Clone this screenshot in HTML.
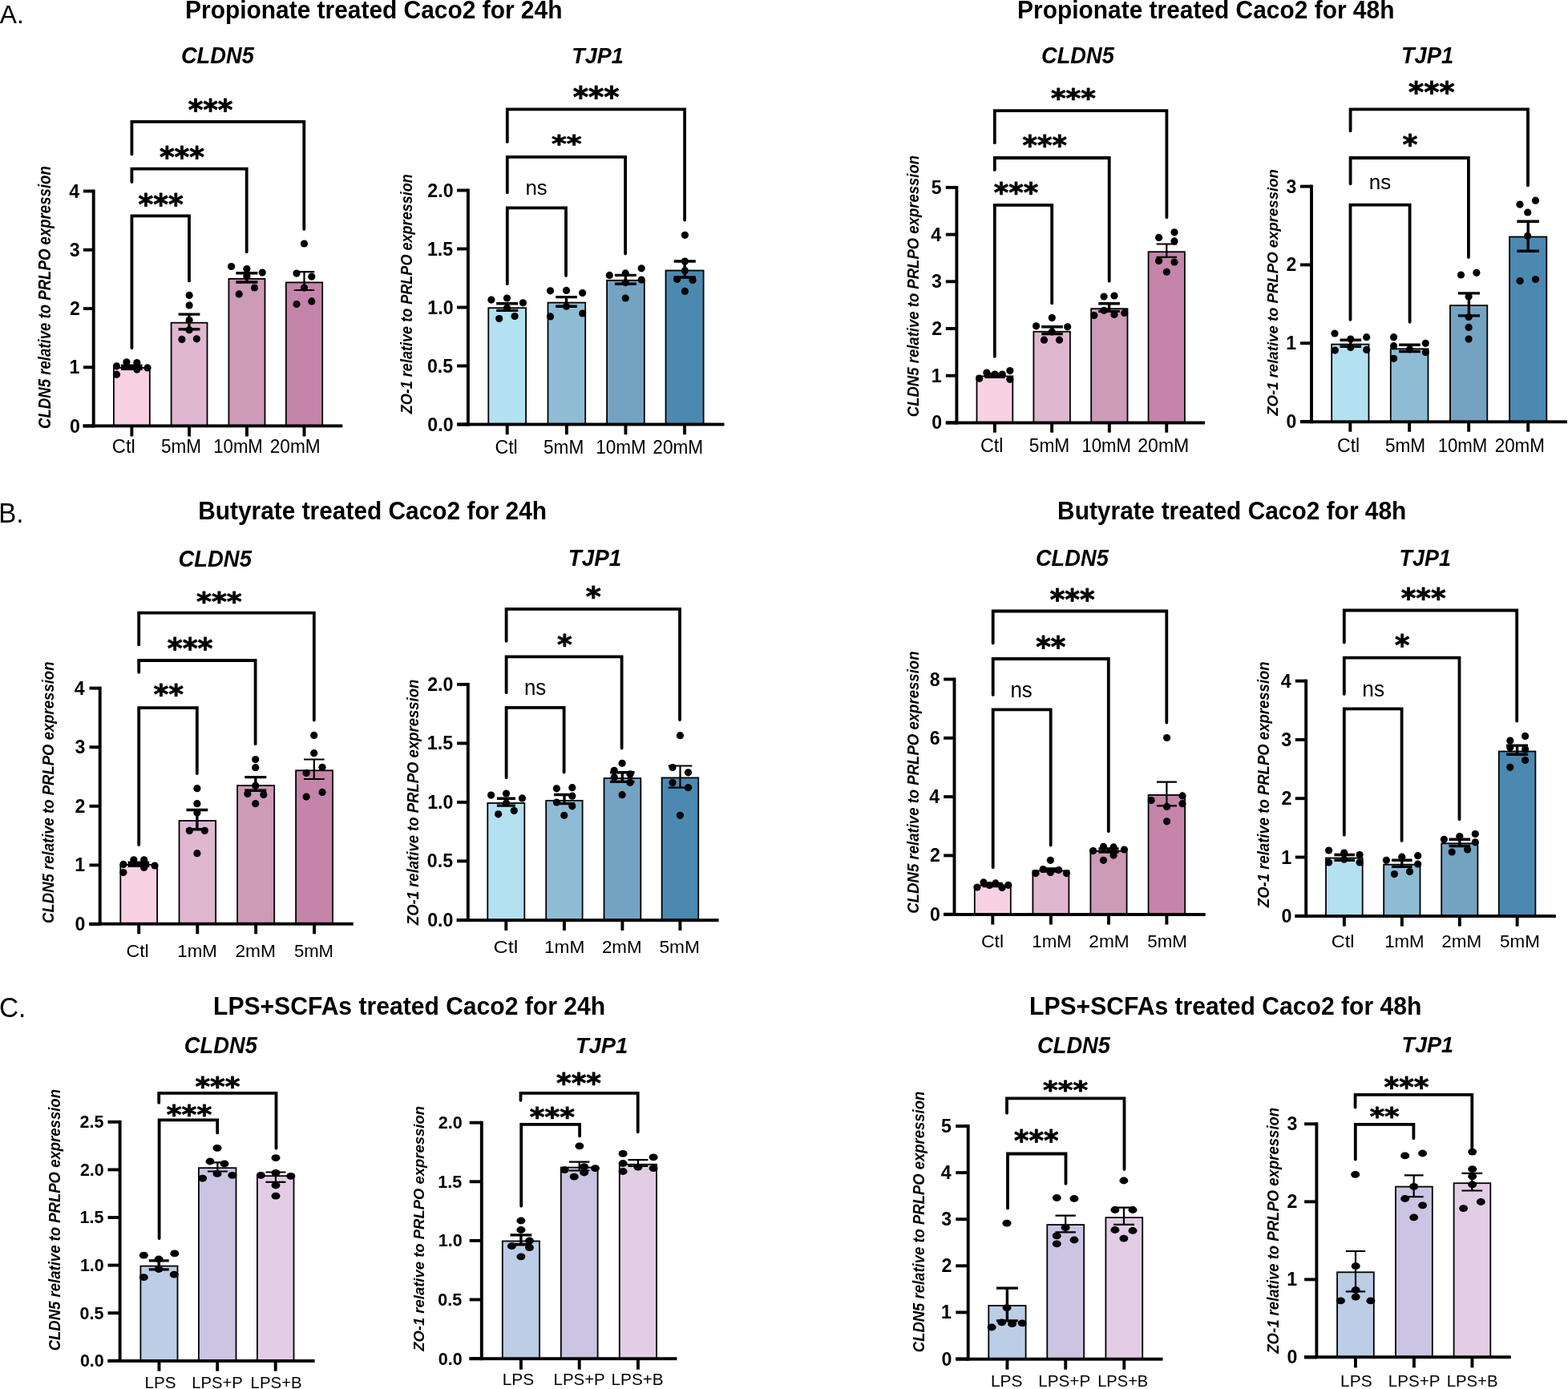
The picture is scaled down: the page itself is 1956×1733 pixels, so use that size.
<!DOCTYPE html>
<html><head><meta charset="utf-8"><title>SCFA Caco2 figure</title>
<style>html,body{margin:0;padding:0;background:#fff;}body{width:1956px;height:1733px;overflow:hidden;}svg{display:block;}</style>
</head><body>
<svg width="1956" height="1733" viewBox="0 0 1956 1733" font-family="'Liberation Sans', Arial, Helvetica, sans-serif" fill="#000"><text transform="translate(231.06 22.75) scale(0.9557 1)" font-size="31.30" font-weight="bold" font-style="normal">Propionate treated Caco2 for 24h</text>
<text transform="translate(1269.06 22.75) scale(0.9557 1)" font-size="31.30" font-weight="bold" font-style="normal">Propionate treated Caco2 for 48h</text>
<text transform="translate(247.16 647.70) scale(0.9638 1)" font-size="31.01" font-weight="bold" font-style="normal">Butyrate treated Caco2 for 24h</text>
<text transform="translate(1319.06 647.70) scale(0.9643 1)" font-size="31.01" font-weight="bold" font-style="normal">Butyrate treated Caco2 for 48h</text>
<text transform="translate(266.04 1265.70) scale(0.9619 1)" font-size="31.30" font-weight="bold" font-style="normal">LPS+SCFAs treated Caco2 for 24h</text>
<text transform="translate(1284.04 1265.70) scale(0.9621 1)" font-size="31.30" font-weight="bold" font-style="normal">LPS+SCFAs treated Caco2 for 48h</text>
<text transform="translate(-0.16 28.80) scale(1.0085 1)" font-size="31.45" font-weight="normal" font-style="normal">A.</text>
<text transform="translate(-1.84 651.80) scale(0.9604 1)" font-size="34.35" font-weight="normal" font-style="normal">B.</text>
<text transform="translate(-1.07 1269.25) scale(0.9621 1)" font-size="34.65" font-weight="normal" font-style="normal">C.</text>
<g><rect x="141.90" y="458.90" width="44.90" height="72.50" fill="#f8d1e3" stroke="#000" stroke-width="1.8"/><rect x="213.60" y="402.70" width="44.90" height="128.70" fill="#dfb7d1" stroke="#000" stroke-width="1.8"/><rect x="285.40" y="347.90" width="45.10" height="183.50" fill="#cd9ab8" stroke="#000" stroke-width="1.8"/><rect x="356.80" y="352.40" width="45.40" height="179.00" fill="#c585aa" stroke="#000" stroke-width="1.8"/><rect x="114.75" y="236.55" width="3.9" height="296.80"/><rect x="104.00" y="529.55" width="12.70" height="3.9"/><rect x="104.00" y="456.30" width="12.70" height="3.9"/><rect x="104.00" y="383.05" width="12.70" height="3.9"/><rect x="104.00" y="309.80" width="12.70" height="3.9"/><rect x="104.00" y="236.55" width="12.70" height="3.9"/><rect x="103.40" y="529.45" width="323.90" height="3.9"/><rect x="162.40" y="531.40" width="3.9" height="13.10"/><rect x="234.10" y="531.40" width="3.9" height="13.10"/><rect x="306.00" y="531.40" width="3.9" height="13.10"/><rect x="377.55" y="531.40" width="3.9" height="13.10"/><circle cx="145.50" cy="456.80" r="4.6"/><circle cx="157.90" cy="451.80" r="4.6"/><circle cx="170.80" cy="452.50" r="4.6"/><circle cx="170.80" cy="461.10" r="4.6"/><circle cx="184.00" cy="458.90" r="4.6"/><circle cx="145.50" cy="467.20" r="4.6"/><circle cx="236.10" cy="368.40" r="4.6"/><circle cx="236.10" cy="380.90" r="4.6"/><circle cx="236.10" cy="399.50" r="4.6"/><circle cx="236.10" cy="411.70" r="4.6"/><circle cx="226.90" cy="423.40" r="4.6"/><circle cx="245.40" cy="422.80" r="4.6"/><circle cx="288.60" cy="332.50" r="4.6"/><circle cx="307.90" cy="335.50" r="4.6"/><circle cx="327.20" cy="340.10" r="4.6"/><circle cx="307.90" cy="344.40" r="4.6"/><circle cx="317.50" cy="359.00" r="4.6"/><circle cx="298.20" cy="366.90" r="4.6"/><circle cx="379.50" cy="304.00" r="4.6"/><circle cx="370.00" cy="341.10" r="4.6"/><circle cx="388.80" cy="345.10" r="4.6"/><circle cx="379.50" cy="359.00" r="4.6"/><circle cx="370.00" cy="379.50" r="4.6"/><circle cx="388.80" cy="375.90" r="4.6"/><path d="M164.30 456.30V460.30M151.00 456.30H177.60M151.00 460.30H177.60" stroke="#000" stroke-width="3.4" fill="none"/><path d="M236.00 392.10V410.70M222.60 392.10H249.40M222.60 410.70H249.40" stroke="#000" stroke-width="3.4" fill="none"/><path d="M307.90 340.80V352.00M294.40 340.80H321.40M294.40 352.00H321.40" stroke="#000" stroke-width="3.4" fill="none"/><path d="M379.50 339.10V362.00M366.80 339.10H392.20M366.80 362.00H392.20" stroke="#000" stroke-width="2.2" fill="none"/><path d="M164.40 192.40V151.80H379.30V285.90" stroke="#000" stroke-width="3.8" fill="none" stroke-linecap="round" stroke-linejoin="miter"/><path d="M164.40 227.10V210.60H307.70V314.30" stroke="#000" stroke-width="3.8" fill="none" stroke-linecap="round" stroke-linejoin="miter"/><path d="M164.40 434.10V269.40H236.00V350.40" stroke="#000" stroke-width="3.8" fill="none" stroke-linecap="round" stroke-linejoin="miter"/><text transform="translate(234.69 149.34) scale(0.9837 1)" font-size="36.13" font-weight="bold" font-style="normal" font-family="'DejaVu Sans', sans-serif" stroke="#000" stroke-width="0.8" stroke-linejoin="round">***</text><text transform="translate(198.88 208.29) scale(0.9851 1)" font-size="36.34" font-weight="bold" font-style="normal" font-family="'DejaVu Sans', sans-serif" stroke="#000" stroke-width="0.8" stroke-linejoin="round">***</text><text transform="translate(172.58 267.04) scale(0.9910 1)" font-size="36.13" font-weight="bold" font-style="normal" font-family="'DejaVu Sans', sans-serif" stroke="#000" stroke-width="0.8" stroke-linejoin="round">***</text><text transform="translate(86.96 539.50) scale(1.0000 1)" font-size="23.19" font-weight="bold" font-style="normal">0</text><text transform="translate(86.61 466.25) scale(1.0000 1)" font-size="23.19" font-weight="bold" font-style="normal">1</text><text transform="translate(86.96 393.00) scale(1.0000 1)" font-size="23.19" font-weight="bold" font-style="normal">2</text><text transform="translate(86.84 319.75) scale(1.0000 1)" font-size="23.19" font-weight="bold" font-style="normal">3</text><text transform="translate(86.15 246.50) scale(1.0000 1)" font-size="23.19" font-weight="bold" font-style="normal">4</text><text transform="translate(139.81 564.70) scale(1.0289 1)" font-size="23.04" font-weight="normal" font-style="normal">Ctl</text><text transform="translate(201.10 564.70) scale(0.9774 1)" font-size="23.04" font-weight="normal" font-style="normal">5mM</text><text transform="translate(266.24 564.70) scale(0.9623 1)" font-size="23.04" font-weight="normal" font-style="normal">10mM</text><text transform="translate(336.77 564.70) scale(0.9828 1)" font-size="23.04" font-weight="normal" font-style="normal">20mM</text><text transform="translate(225.94 79.11) scale(0.9262 1)" font-size="29.44" font-weight="bold" font-style="italic">CLDN5</text><text transform="translate(63.20 535.03) rotate(-90) scale(0.8678 1)" font-size="21.45" font-weight="bold" font-style="italic">CLDN5 relative to PRLPO expression</text></g>
<g><rect x="609.30" y="384.20" width="46.80" height="145.30" fill="#b3e1f1" stroke="#000" stroke-width="1.8"/><rect x="683.50" y="377.60" width="46.70" height="151.90" fill="#8fbcd5" stroke="#000" stroke-width="1.8"/><rect x="757.10" y="349.80" width="46.70" height="179.70" fill="#74a3c2" stroke="#000" stroke-width="1.8"/><rect x="830.50" y="337.50" width="47.10" height="192.00" fill="#4b89b1" stroke="#000" stroke-width="1.8"/><rect x="581.95" y="235.55" width="3.9" height="295.90"/><rect x="570.00" y="527.55" width="13.90" height="3.9"/><rect x="570.00" y="454.55" width="13.90" height="3.9"/><rect x="570.00" y="381.55" width="13.90" height="3.9"/><rect x="570.00" y="308.55" width="13.90" height="3.9"/><rect x="570.00" y="235.55" width="13.90" height="3.9"/><rect x="570.50" y="527.55" width="333.00" height="3.9"/><rect x="630.75" y="529.50" width="3.9" height="12.70"/><rect x="704.90" y="529.50" width="3.9" height="12.70"/><rect x="778.50" y="529.50" width="3.9" height="12.70"/><rect x="852.10" y="529.50" width="3.9" height="12.70"/><circle cx="612.90" cy="374.10" r="4.6"/><circle cx="632.50" cy="372.00" r="4.6"/><circle cx="652.40" cy="377.80" r="4.6"/><circle cx="632.50" cy="384.30" r="4.6"/><circle cx="622.70" cy="397.60" r="4.6"/><circle cx="642.10" cy="394.50" r="4.6"/><circle cx="686.50" cy="362.80" r="4.6"/><circle cx="706.50" cy="362.40" r="4.6"/><circle cx="726.60" cy="365.50" r="4.6"/><circle cx="706.50" cy="382.20" r="4.6"/><circle cx="686.50" cy="394.90" r="4.6"/><circle cx="726.60" cy="391.00" r="4.6"/><circle cx="760.30" cy="343.40" r="4.6"/><circle cx="780.20" cy="340.90" r="4.6"/><circle cx="800.20" cy="334.80" r="4.6"/><circle cx="800.20" cy="349.10" r="4.6"/><circle cx="780.20" cy="352.60" r="4.6"/><circle cx="780.20" cy="372.00" r="4.6"/><circle cx="854.40" cy="293.30" r="4.6"/><circle cx="854.40" cy="326.00" r="4.6"/><circle cx="854.40" cy="337.70" r="4.6"/><circle cx="844.60" cy="348.50" r="4.6"/><circle cx="864.00" cy="349.50" r="4.6"/><circle cx="854.40" cy="363.40" r="4.6"/><path d="M632.70 378.80V387.40M619.20 378.80H646.20M619.20 387.40H646.20" stroke="#000" stroke-width="3.4" fill="none"/><path d="M706.50 370.60V382.20M693.20 370.60H719.80M693.20 382.20H719.80" stroke="#000" stroke-width="3.4" fill="none"/><path d="M780.40 343.40V354.20M766.90 343.40H793.90M766.90 354.20H793.90" stroke="#000" stroke-width="3.4" fill="none"/><path d="M854.20 326.00V346.00M840.60 326.00H867.80M840.60 346.00H867.80" stroke="#000" stroke-width="3.4" fill="none"/><path d="M632.80 176.90V136.40H854.10V274.60" stroke="#000" stroke-width="3.8" fill="none" stroke-linecap="round" stroke-linejoin="miter"/><path d="M632.80 240.30V195.80H780.10V316.50" stroke="#000" stroke-width="3.8" fill="none" stroke-linecap="round" stroke-linejoin="miter"/><path d="M632.80 354.20V259.30H706.00V343.90" stroke="#000" stroke-width="3.8" fill="none" stroke-linecap="round" stroke-linejoin="miter"/><text transform="translate(714.76 133.40) scale(1.0430 1)" font-size="35.27" font-weight="bold" font-style="normal" font-family="'DejaVu Sans', sans-serif" stroke="#000" stroke-width="0.8" stroke-linejoin="round">***</text><text transform="translate(687.98 189.04) scale(1.2282 1)" font-size="29.25" font-weight="bold" font-style="normal" font-family="'DejaVu Sans', sans-serif" stroke="#000" stroke-width="0.8" stroke-linejoin="round">**</text><text transform="translate(655.53 243.03) scale(0.9704 1)" font-size="26.55" font-weight="normal" font-style="normal">ns</text><text transform="translate(533.30 537.50) scale(1.0000 1)" font-size="23.19" font-weight="bold" font-style="normal">0.0</text><text transform="translate(532.95 464.50) scale(1.0000 1)" font-size="23.19" font-weight="bold" font-style="normal">0.5</text><text transform="translate(533.30 391.50) scale(1.0000 1)" font-size="23.19" font-weight="bold" font-style="normal">1.0</text><text transform="translate(532.95 318.50) scale(1.0000 1)" font-size="23.19" font-weight="bold" font-style="normal">1.5</text><text transform="translate(533.30 245.50) scale(1.0000 1)" font-size="23.19" font-weight="bold" font-style="normal">2.0</text><text transform="translate(617.44 565.80) scale(0.9991 1)" font-size="23.19" font-weight="normal" font-style="normal">Ctl</text><text transform="translate(678.00 565.80) scale(0.9754 1)" font-size="23.19" font-weight="normal" font-style="normal">5mM</text><text transform="translate(743.31 565.80) scale(0.9711 1)" font-size="23.19" font-weight="normal" font-style="normal">10mM</text><text transform="translate(814.37 565.80) scale(0.9750 1)" font-size="23.19" font-weight="normal" font-style="normal">20mM</text><text transform="translate(713.21 78.72) scale(0.9800 1)" font-size="27.57" font-weight="bold" font-style="italic">TJP1</text><text transform="translate(513.50 516.35) rotate(-90) scale(0.8784 1)" font-size="20.58" font-weight="bold" font-style="italic">ZO-1 relative to PRLPO expression</text></g>
<g><rect x="1218.50" y="469.40" width="44.80" height="58.10" fill="#f8d1e3" stroke="#000" stroke-width="1.8"/><rect x="1289.40" y="413.80" width="45.50" height="113.70" fill="#dfb7d1" stroke="#000" stroke-width="1.8"/><rect x="1361.20" y="385.20" width="45.30" height="142.30" fill="#cd9ab8" stroke="#000" stroke-width="1.8"/><rect x="1432.60" y="314.20" width="45.30" height="213.30" fill="#c585aa" stroke="#000" stroke-width="1.8"/><rect x="1191.45" y="231.95" width="3.9" height="297.50"/><rect x="1179.80" y="525.45" width="13.60" height="3.9"/><rect x="1179.80" y="466.75" width="13.60" height="3.9"/><rect x="1179.80" y="408.05" width="13.60" height="3.9"/><rect x="1179.80" y="349.35" width="13.60" height="3.9"/><rect x="1179.80" y="290.65" width="13.60" height="3.9"/><rect x="1179.80" y="231.95" width="13.60" height="3.9"/><rect x="1179.80" y="525.55" width="323.20" height="3.9"/><rect x="1238.95" y="527.50" width="3.9" height="12.20"/><rect x="1310.20" y="527.50" width="3.9" height="12.20"/><rect x="1381.90" y="527.50" width="3.9" height="12.20"/><rect x="1453.30" y="527.50" width="3.9" height="12.20"/><circle cx="1221.70" cy="472.20" r="4.6"/><circle cx="1230.90" cy="465.10" r="4.6"/><circle cx="1241.10" cy="467.10" r="4.6"/><circle cx="1250.30" cy="467.10" r="4.6"/><circle cx="1259.90" cy="462.60" r="4.6"/><circle cx="1259.90" cy="473.30" r="4.6"/><circle cx="1312.30" cy="396.60" r="4.6"/><circle cx="1292.60" cy="406.80" r="4.6"/><circle cx="1331.70" cy="407.80" r="4.6"/><circle cx="1312.30" cy="414.00" r="4.6"/><circle cx="1302.50" cy="424.20" r="4.6"/><circle cx="1321.50" cy="424.20" r="4.6"/><circle cx="1377.10" cy="370.00" r="4.6"/><circle cx="1390.00" cy="369.00" r="4.6"/><circle cx="1364.80" cy="393.50" r="4.6"/><circle cx="1377.10" cy="387.40" r="4.6"/><circle cx="1390.00" cy="392.50" r="4.6"/><circle cx="1402.70" cy="390.40" r="4.6"/><circle cx="1465.00" cy="289.80" r="4.6"/><circle cx="1445.60" cy="296.40" r="4.6"/><circle cx="1465.00" cy="300.90" r="4.6"/><circle cx="1445.60" cy="325.40" r="4.6"/><circle cx="1465.00" cy="327.00" r="4.6"/><circle cx="1455.40" cy="339.30" r="4.6"/><path d="M1240.90 466.50V470.30M1228.40 466.50H1253.40M1228.40 470.30H1253.40" stroke="#000" stroke-width="3.4" fill="none"/><path d="M1312.50 407.80V416.60M1299.20 407.80H1325.80M1299.20 416.60H1325.80" stroke="#000" stroke-width="3.4" fill="none"/><path d="M1383.60 378.80V388.40M1370.30 378.80H1396.90M1370.30 388.40H1396.90" stroke="#000" stroke-width="3.4" fill="none"/><path d="M1455.30 304.50V320.90M1442.60 304.50H1468.00M1442.60 320.90H1468.00" stroke="#000" stroke-width="2.2" fill="none"/><path d="M1240.80 178.20V138.20H1455.40V271.20" stroke="#000" stroke-width="3.8" fill="none" stroke-linecap="round" stroke-linejoin="miter"/><path d="M1240.80 211.90V197.00H1383.70V350.70" stroke="#000" stroke-width="3.8" fill="none" stroke-linecap="round" stroke-linejoin="miter"/><path d="M1240.80 444.80V255.80H1312.20V378.30" stroke="#000" stroke-width="3.8" fill="none" stroke-linecap="round" stroke-linejoin="miter"/><text transform="translate(1310.89 133.37) scale(1.1038 1)" font-size="32.26" font-weight="bold" font-style="normal" font-family="'DejaVu Sans', sans-serif" stroke="#000" stroke-width="0.8" stroke-linejoin="round">***</text><text transform="translate(1275.59 193.03) scale(1.0555 1)" font-size="33.55" font-weight="bold" font-style="normal" font-family="'DejaVu Sans', sans-serif" stroke="#000" stroke-width="0.8" stroke-linejoin="round">***</text><text transform="translate(1239.79 251.73) scale(1.0516 1)" font-size="33.55" font-weight="bold" font-style="normal" font-family="'DejaVu Sans', sans-serif" stroke="#000" stroke-width="0.8" stroke-linejoin="round">***</text><text transform="translate(1162.16 535.40) scale(1.0000 1)" font-size="23.19" font-weight="bold" font-style="normal">0</text><text transform="translate(1161.81 476.70) scale(1.0000 1)" font-size="23.19" font-weight="bold" font-style="normal">1</text><text transform="translate(1162.16 418.00) scale(1.0000 1)" font-size="23.19" font-weight="bold" font-style="normal">2</text><text transform="translate(1162.04 359.30) scale(1.0000 1)" font-size="23.19" font-weight="bold" font-style="normal">3</text><text transform="translate(1161.35 300.60) scale(1.0000 1)" font-size="23.19" font-weight="bold" font-style="normal">4</text><text transform="translate(1161.81 241.90) scale(1.0000 1)" font-size="23.19" font-weight="bold" font-style="normal">5</text><text transform="translate(1222.93 563.90) scale(1.0132 1)" font-size="23.04" font-weight="normal" font-style="normal">Ctl</text><text transform="translate(1283.79 563.90) scale(0.9878 1)" font-size="23.04" font-weight="normal" font-style="normal">5mM</text><text transform="translate(1349.44 563.90) scale(0.9623 1)" font-size="23.04" font-weight="normal" font-style="normal">10mM</text><text transform="translate(1419.25 563.90) scale(1.0008 1)" font-size="23.04" font-weight="normal" font-style="normal">20mM</text><text transform="translate(1299.04 79.01) scale(0.9432 1)" font-size="28.87" font-weight="bold" font-style="italic">CLDN5</text><text transform="translate(1146.00 520.23) rotate(-90) scale(0.9137 1)" font-size="20.29" font-weight="bold" font-style="italic">CLDN5 relative to PRLPO expression</text></g>
<g><rect x="1661.20" y="429.60" width="46.30" height="96.70" fill="#b3e1f1" stroke="#000" stroke-width="1.8"/><rect x="1734.80" y="435.30" width="46.70" height="91.00" fill="#8fbcd5" stroke="#000" stroke-width="1.8"/><rect x="1809.00" y="381.10" width="46.30" height="145.20" fill="#74a3c2" stroke="#000" stroke-width="1.8"/><rect x="1883.10" y="295.50" width="46.20" height="230.80" fill="#4b89b1" stroke="#000" stroke-width="1.8"/><rect x="1634.05" y="230.65" width="3.9" height="297.60"/><rect x="1622.00" y="524.05" width="14.00" height="3.9"/><rect x="1622.00" y="426.25" width="14.00" height="3.9"/><rect x="1622.00" y="328.45" width="14.00" height="3.9"/><rect x="1622.00" y="230.65" width="14.00" height="3.9"/><rect x="1622.00" y="524.35" width="333.00" height="3.9"/><rect x="1682.40" y="526.30" width="3.9" height="12.40"/><rect x="1756.20" y="526.30" width="3.9" height="12.40"/><rect x="1830.20" y="526.30" width="3.9" height="12.40"/><rect x="1904.25" y="526.30" width="3.9" height="12.40"/><circle cx="1665.00" cy="416.00" r="4.6"/><circle cx="1684.80" cy="423.10" r="4.6"/><circle cx="1704.70" cy="420.70" r="4.6"/><circle cx="1665.40" cy="437.10" r="4.6"/><circle cx="1684.80" cy="433.40" r="4.6"/><circle cx="1704.70" cy="436.40" r="4.6"/><circle cx="1738.60" cy="420.70" r="4.6"/><circle cx="1778.30" cy="428.30" r="4.6"/><circle cx="1738.60" cy="431.70" r="4.6"/><circle cx="1758.50" cy="435.80" r="4.6"/><circle cx="1778.30" cy="439.50" r="4.6"/><circle cx="1738.60" cy="447.30" r="4.6"/><circle cx="1822.50" cy="343.00" r="4.6"/><circle cx="1841.90" cy="340.30" r="4.6"/><circle cx="1832.10" cy="370.00" r="4.6"/><circle cx="1832.10" cy="395.50" r="4.6"/><circle cx="1832.10" cy="408.40" r="4.6"/><circle cx="1832.10" cy="423.10" r="4.6"/><circle cx="1896.00" cy="255.10" r="4.6"/><circle cx="1915.50" cy="250.20" r="4.6"/><circle cx="1905.70" cy="265.00" r="4.6"/><circle cx="1905.70" cy="294.40" r="4.6"/><circle cx="1896.10" cy="350.60" r="4.6"/><circle cx="1915.50" cy="348.50" r="4.6"/><path d="M1684.80 424.20V432.30M1671.50 424.20H1698.10M1671.50 432.30H1698.10" stroke="#000" stroke-width="3.4" fill="none"/><path d="M1758.50 430.30V438.50M1745.20 430.30H1771.80M1745.20 438.50H1771.80" stroke="#000" stroke-width="3.4" fill="none"/><path d="M1832.40 365.90V393.90M1818.80 365.90H1846.00M1818.80 393.90H1846.00" stroke="#000" stroke-width="3.4" fill="none"/><path d="M1906.20 276.20V313.30M1892.40 276.20H1920.00M1892.40 313.30H1920.00" stroke="#000" stroke-width="3.4" fill="none"/><path d="M1684.60 163.30V136.30H1906.00V231.40" stroke="#000" stroke-width="3.8" fill="none" stroke-linecap="round" stroke-linejoin="miter"/><path d="M1684.60 229.30V197.00H1831.90V321.00" stroke="#000" stroke-width="3.8" fill="none" stroke-linecap="round" stroke-linejoin="miter"/><path d="M1684.50 398.80V255.60H1758.60V401.80" stroke="#000" stroke-width="3.8" fill="none" stroke-linecap="round" stroke-linejoin="miter"/><text transform="translate(1757.07 126.84) scale(1.0146 1)" font-size="36.13" font-weight="bold" font-style="normal" font-family="'DejaVu Sans', sans-serif" stroke="#000" stroke-width="0.8" stroke-linejoin="round">***</text><text transform="translate(1749.58 191.50) scale(1.0601 1)" font-size="34.19" font-weight="bold" font-style="normal" font-family="'DejaVu Sans', sans-serif" stroke="#000" stroke-width="0.8" stroke-linejoin="round">*</text><text transform="translate(1707.71 236.04) scale(1.0028 1)" font-size="26.00" font-weight="normal" font-style="normal">ns</text><text transform="translate(1604.53 533.95) scale(1.0000 1)" font-size="23.04" font-weight="bold" font-style="normal">0</text><text transform="translate(1604.19 436.15) scale(1.0000 1)" font-size="23.04" font-weight="bold" font-style="normal">1</text><text transform="translate(1604.53 338.35) scale(1.0000 1)" font-size="23.04" font-weight="bold" font-style="normal">2</text><text transform="translate(1604.42 240.55) scale(1.0000 1)" font-size="23.04" font-weight="bold" font-style="normal">3</text><text transform="translate(1667.94 563.90) scale(1.0054 1)" font-size="23.04" font-weight="normal" font-style="normal">Ctl</text><text transform="translate(1727.89 563.90) scale(0.9836 1)" font-size="23.04" font-weight="normal" font-style="normal">5mM</text><text transform="translate(1793.63 563.90) scale(0.9640 1)" font-size="23.04" font-weight="normal" font-style="normal">10mM</text><text transform="translate(1864.68 563.90) scale(0.9729 1)" font-size="23.04" font-weight="normal" font-style="normal">20mM</text><text transform="translate(1747.99 78.61) scale(0.9487 1)" font-size="28.71" font-weight="bold" font-style="italic">TJP1</text><text transform="translate(1593.60 518.84) rotate(-90) scale(0.9789 1)" font-size="18.99" font-weight="bold" font-style="italic">ZO-1 relative to PRLPO expression</text></g>
<g><rect x="150.30" y="1078.90" width="45.80" height="73.80" fill="#f8d1e3" stroke="#000" stroke-width="1.8"/><rect x="223.50" y="1024.00" width="45.60" height="128.70" fill="#dfb7d1" stroke="#000" stroke-width="1.8"/><rect x="296.10" y="980.10" width="46.10" height="172.60" fill="#cd9ab8" stroke="#000" stroke-width="1.8"/><rect x="369.10" y="961.30" width="45.90" height="191.40" fill="#c585aa" stroke="#000" stroke-width="1.8"/><rect x="122.75" y="856.65" width="3.9" height="298.00"/><rect x="111.50" y="1151.05" width="13.20" height="3.9"/><rect x="111.50" y="1077.45" width="13.20" height="3.9"/><rect x="111.50" y="1003.85" width="13.20" height="3.9"/><rect x="111.50" y="930.25" width="13.20" height="3.9"/><rect x="111.50" y="856.65" width="13.20" height="3.9"/><rect x="111.20" y="1150.75" width="329.50" height="3.9"/><rect x="171.25" y="1152.70" width="3.9" height="12.60"/><rect x="244.35" y="1152.70" width="3.9" height="12.60"/><rect x="317.20" y="1152.70" width="3.9" height="12.60"/><rect x="390.10" y="1152.70" width="3.9" height="12.60"/><circle cx="153.90" cy="1078.40" r="4.6"/><circle cx="166.80" cy="1072.80" r="4.6"/><circle cx="179.70" cy="1072.80" r="4.6"/><circle cx="179.70" cy="1082.50" r="4.6"/><circle cx="193.00" cy="1080.00" r="4.6"/><circle cx="153.90" cy="1088.60" r="4.6"/><circle cx="245.90" cy="983.70" r="4.6"/><circle cx="245.90" cy="1002.70" r="4.6"/><circle cx="245.90" cy="1014.00" r="4.6"/><circle cx="236.30" cy="1036.40" r="4.6"/><circle cx="255.30" cy="1036.40" r="4.6"/><circle cx="245.90" cy="1064.70" r="4.6"/><circle cx="318.70" cy="947.50" r="4.6"/><circle cx="318.70" cy="957.70" r="4.6"/><circle cx="318.70" cy="980.20" r="4.6"/><circle cx="308.90" cy="990.40" r="4.6"/><circle cx="328.80" cy="991.50" r="4.6"/><circle cx="318.70" cy="1002.70" r="4.6"/><circle cx="391.70" cy="917.40" r="4.6"/><circle cx="391.70" cy="939.70" r="4.6"/><circle cx="402.00" cy="957.30" r="4.6"/><circle cx="382.10" cy="964.50" r="4.6"/><circle cx="402.00" cy="988.40" r="4.6"/><circle cx="382.10" cy="994.10" r="4.6"/><path d="M172.90 1076.30V1080.40M159.60 1076.30H186.20M159.60 1080.40H186.20" stroke="#000" stroke-width="3.4" fill="none"/><path d="M245.90 1010.50V1034.80M232.50 1010.50H259.30M232.50 1034.80H259.30" stroke="#000" stroke-width="3.4" fill="none"/><path d="M318.80 969.60V986.30M305.30 969.60H332.30M305.30 986.30H332.30" stroke="#000" stroke-width="3.4" fill="none"/><path d="M391.80 947.50V972.00M379.00 947.50H404.60M379.00 972.00H404.60" stroke="#000" stroke-width="2.2" fill="none"/><path d="M173.20 804.40V764.60H391.80V898.50" stroke="#000" stroke-width="3.8" fill="none" stroke-linecap="round" stroke-linejoin="miter"/><path d="M173.20 838.80V824.00H318.60V928.20" stroke="#000" stroke-width="3.8" fill="none" stroke-linecap="round" stroke-linejoin="miter"/><path d="M173.20 1054.00V883.20H245.80V965.00" stroke="#000" stroke-width="3.8" fill="none" stroke-linecap="round" stroke-linejoin="miter"/><text transform="translate(245.08 760.83) scale(1.1126 1)" font-size="32.47" font-weight="bold" font-style="normal" font-family="'DejaVu Sans', sans-serif" stroke="#000" stroke-width="0.8" stroke-linejoin="round">***</text><text transform="translate(208.78 821.29) scale(0.9941 1)" font-size="36.34" font-weight="bold" font-style="normal" font-family="'DejaVu Sans', sans-serif" stroke="#000" stroke-width="0.8" stroke-linejoin="round">***</text><text transform="translate(191.58 878.31) scale(1.0816 1)" font-size="33.12" font-weight="bold" font-style="normal" font-family="'DejaVu Sans', sans-serif" stroke="#000" stroke-width="0.8" stroke-linejoin="round">**</text><text transform="translate(93.56 1161.00) scale(1.0000 1)" font-size="23.19" font-weight="bold" font-style="normal">0</text><text transform="translate(93.21 1087.40) scale(1.0000 1)" font-size="23.19" font-weight="bold" font-style="normal">1</text><text transform="translate(93.56 1013.80) scale(1.0000 1)" font-size="23.19" font-weight="bold" font-style="normal">2</text><text transform="translate(93.44 940.20) scale(1.0000 1)" font-size="23.19" font-weight="bold" font-style="normal">3</text><text transform="translate(92.75 866.60) scale(1.0000 1)" font-size="23.19" font-weight="bold" font-style="normal">4</text><text transform="translate(157.44 1193.80) scale(1.0117 1)" font-size="22.90" font-weight="normal" font-style="normal">Ctl</text><text transform="translate(221.33 1193.80) scale(0.9728 1)" font-size="22.90" font-weight="normal" font-style="normal">1mM</text><text transform="translate(293.46 1193.80) scale(0.9946 1)" font-size="22.90" font-weight="normal" font-style="normal">2mM</text><text transform="translate(366.92 1193.80) scale(0.9649 1)" font-size="22.90" font-weight="normal" font-style="normal">5mM</text><text transform="translate(222.43 706.61) scale(0.9369 1)" font-size="29.30" font-weight="bold" font-style="italic">CLDN5</text><text transform="translate(66.50 1151.93) rotate(-90) scale(0.9479 1)" font-size="19.57" font-weight="bold" font-style="italic">CLDN5 relative to PRLPO expression</text></g>
<g><rect x="608.30" y="1002.00" width="46.00" height="146.10" fill="#b3e1f1" stroke="#000" stroke-width="1.8"/><rect x="681.20" y="998.90" width="45.40" height="149.20" fill="#8fbcd5" stroke="#000" stroke-width="1.8"/><rect x="753.50" y="971.00" width="45.80" height="177.10" fill="#74a3c2" stroke="#000" stroke-width="1.8"/><rect x="825.60" y="970.40" width="45.60" height="177.70" fill="#4b89b1" stroke="#000" stroke-width="1.8"/><rect x="581.85" y="851.95" width="3.9" height="298.10"/><rect x="570.00" y="1145.95" width="13.80" height="3.9"/><rect x="570.00" y="1072.45" width="13.80" height="3.9"/><rect x="570.00" y="998.95" width="13.80" height="3.9"/><rect x="570.00" y="925.45" width="13.80" height="3.9"/><rect x="570.00" y="851.95" width="13.80" height="3.9"/><rect x="569.60" y="1146.15" width="327.00" height="3.9"/><rect x="629.35" y="1148.10" width="3.9" height="12.80"/><rect x="701.95" y="1148.10" width="3.9" height="12.80"/><rect x="774.45" y="1148.10" width="3.9" height="12.80"/><rect x="846.45" y="1148.10" width="3.9" height="12.80"/><circle cx="612.60" cy="992.10" r="4.6"/><circle cx="631.50" cy="990.00" r="4.6"/><circle cx="651.40" cy="995.90" r="4.6"/><circle cx="631.50" cy="1002.00" r="4.6"/><circle cx="621.60" cy="1015.80" r="4.6"/><circle cx="641.30" cy="1011.60" r="4.6"/><circle cx="694.40" cy="983.80" r="4.6"/><circle cx="713.80" cy="982.70" r="4.6"/><circle cx="713.80" cy="993.20" r="4.6"/><circle cx="694.40" cy="1001.10" r="4.6"/><circle cx="713.80" cy="1005.80" r="4.6"/><circle cx="703.80" cy="1017.30" r="4.6"/><circle cx="776.10" cy="952.30" r="4.6"/><circle cx="766.20" cy="961.30" r="4.6"/><circle cx="786.00" cy="965.90" r="4.6"/><circle cx="766.20" cy="969.70" r="4.6"/><circle cx="786.00" cy="976.40" r="4.6"/><circle cx="776.10" cy="991.70" r="4.6"/><circle cx="848.40" cy="917.70" r="4.6"/><circle cx="839.00" cy="957.60" r="4.6"/><circle cx="858.50" cy="963.80" r="4.6"/><circle cx="839.00" cy="976.40" r="4.6"/><circle cx="858.50" cy="982.70" r="4.6"/><circle cx="848.40" cy="1017.30" r="4.6"/><path d="M631.40 996.30V1005.10M619.90 996.30H642.90M619.90 1005.10H642.90" stroke="#000" stroke-width="3.4" fill="none"/><path d="M704.00 991.50V1002.60M690.90 991.50H717.10M690.90 1002.60H717.10" stroke="#000" stroke-width="3.4" fill="none"/><path d="M776.30 963.80V975.40M761.10 963.80H791.50M761.10 975.40H791.50" stroke="#000" stroke-width="3.4" fill="none"/><path d="M848.50 955.50V982.70M833.60 955.50H863.40M833.60 982.70H863.40" stroke="#000" stroke-width="2.2" fill="none"/><path d="M631.60 799.80V759.90H848.00V898.00" stroke="#000" stroke-width="3.8" fill="none" stroke-linecap="round" stroke-linejoin="miter"/><path d="M631.60 864.20V819.40H775.60V933.60" stroke="#000" stroke-width="3.8" fill="none" stroke-linecap="round" stroke-linejoin="miter"/><path d="M631.60 970.30V882.80H703.60V963.60" stroke="#000" stroke-width="3.8" fill="none" stroke-linecap="round" stroke-linejoin="miter"/><text transform="translate(730.87 755.94) scale(1.0730 1)" font-size="33.98" font-weight="bold" font-style="normal" font-family="'DejaVu Sans', sans-serif" stroke="#000" stroke-width="0.8" stroke-linejoin="round">*</text><text transform="translate(695.08 815.76) scale(1.0414 1)" font-size="34.41" font-weight="bold" font-style="normal" font-family="'DejaVu Sans', sans-serif" stroke="#000" stroke-width="0.8" stroke-linejoin="round">*</text><text transform="translate(653.92 866.93) scale(0.9483 1)" font-size="27.27" font-weight="normal" font-style="normal">ns</text><text transform="translate(533.20 1155.90) scale(1.0000 1)" font-size="23.19" font-weight="bold" font-style="normal">0.0</text><text transform="translate(532.85 1082.40) scale(1.0000 1)" font-size="23.19" font-weight="bold" font-style="normal">0.5</text><text transform="translate(533.20 1008.90) scale(1.0000 1)" font-size="23.19" font-weight="bold" font-style="normal">1.0</text><text transform="translate(532.85 935.40) scale(1.0000 1)" font-size="23.19" font-weight="bold" font-style="normal">1.5</text><text transform="translate(533.20 861.90) scale(1.0000 1)" font-size="23.19" font-weight="bold" font-style="normal">2.0</text><text transform="translate(615.54 1188.80) scale(1.1026 1)" font-size="22.90" font-weight="normal" font-style="normal">Ctl</text><text transform="translate(679.00 1188.80) scale(0.9897 1)" font-size="22.90" font-weight="normal" font-style="normal">1mM</text><text transform="translate(750.88 1188.80) scale(0.9758 1)" font-size="22.90" font-weight="normal" font-style="normal">2mM</text><text transform="translate(822.39 1188.80) scale(0.9920 1)" font-size="22.90" font-weight="normal" font-style="normal">5mM</text><text transform="translate(708.86 705.91) scale(0.9529 1)" font-size="29.14" font-weight="bold" font-style="italic">TJP1</text><text transform="translate(522.00 1154.14) rotate(-90) scale(0.8999 1)" font-size="20.58" font-weight="bold" font-style="italic">ZO-1 relative to PRLPO expression</text></g>
<g><rect x="1215.80" y="1104.80" width="45.00" height="36.20" fill="#f8d1e3" stroke="#000" stroke-width="1.8"/><rect x="1288.40" y="1086.40" width="45.00" height="54.60" fill="#dfb7d1" stroke="#000" stroke-width="1.8"/><rect x="1360.40" y="1061.90" width="45.20" height="79.10" fill="#cd9ab8" stroke="#000" stroke-width="1.8"/><rect x="1432.60" y="991.90" width="45.60" height="149.10" fill="#c585aa" stroke="#000" stroke-width="1.8"/><rect x="1188.55" y="845.55" width="3.9" height="297.40"/><rect x="1177.20" y="1138.75" width="13.30" height="3.9"/><rect x="1177.20" y="1065.45" width="13.30" height="3.9"/><rect x="1177.20" y="992.15" width="13.30" height="3.9"/><rect x="1177.20" y="918.85" width="13.30" height="3.9"/><rect x="1177.20" y="845.55" width="13.30" height="3.9"/><rect x="1177.10" y="1139.05" width="326.60" height="3.9"/><rect x="1236.35" y="1141.00" width="3.9" height="12.60"/><rect x="1308.95" y="1141.00" width="3.9" height="12.60"/><rect x="1381.05" y="1141.00" width="3.9" height="12.60"/><rect x="1453.45" y="1141.00" width="3.9" height="12.60"/><circle cx="1219.00" cy="1107.00" r="4.6"/><circle cx="1227.00" cy="1100.90" r="4.6"/><circle cx="1234.30" cy="1104.50" r="4.6"/><circle cx="1241.90" cy="1101.90" r="4.6"/><circle cx="1250.10" cy="1107.40" r="4.6"/><circle cx="1257.80" cy="1104.30" r="4.6"/><circle cx="1310.40" cy="1073.30" r="4.6"/><circle cx="1292.00" cy="1089.60" r="4.6"/><circle cx="1301.20" cy="1084.50" r="4.6"/><circle cx="1310.40" cy="1088.60" r="4.6"/><circle cx="1320.60" cy="1085.50" r="4.6"/><circle cx="1330.40" cy="1089.60" r="4.6"/><circle cx="1363.60" cy="1061.60" r="4.6"/><circle cx="1376.50" cy="1056.30" r="4.6"/><circle cx="1389.10" cy="1056.90" r="4.6"/><circle cx="1402.40" cy="1060.00" r="4.6"/><circle cx="1376.50" cy="1073.30" r="4.6"/><circle cx="1389.10" cy="1067.10" r="4.6"/><circle cx="1455.60" cy="920.50" r="4.6"/><circle cx="1436.20" cy="998.60" r="4.6"/><circle cx="1475.00" cy="992.90" r="4.6"/><circle cx="1475.00" cy="1002.70" r="4.6"/><circle cx="1455.60" cy="1006.40" r="4.6"/><circle cx="1455.60" cy="1024.80" r="4.6"/><path d="M1238.30 1102.50V1105.50M1225.80 1102.50H1250.80M1225.80 1105.50H1250.80" stroke="#000" stroke-width="3.4" fill="none"/><path d="M1310.90 1084.00V1087.00M1298.40 1084.00H1323.40M1298.40 1087.00H1323.40" stroke="#000" stroke-width="3.4" fill="none"/><path d="M1383.00 1059.00V1063.00M1370.50 1059.00H1395.50M1370.50 1063.00H1395.50" stroke="#000" stroke-width="3.4" fill="none"/><path d="M1455.40 975.70V1005.40M1442.90 975.70H1467.90M1442.90 1005.40H1467.90" stroke="#000" stroke-width="2.2" fill="none"/><path d="M1238.70 802.40V762.50H1455.30V901.60" stroke="#000" stroke-width="3.8" fill="none" stroke-linecap="round" stroke-linejoin="miter"/><path d="M1238.70 866.90V822.00H1382.80V1037.20" stroke="#000" stroke-width="3.8" fill="none" stroke-linecap="round" stroke-linejoin="miter"/><path d="M1238.70 1082.20V885.30H1310.70V1054.40" stroke="#000" stroke-width="3.8" fill="none" stroke-linecap="round" stroke-linejoin="miter"/><text transform="translate(1309.69 759.84) scale(1.0176 1)" font-size="35.05" font-weight="bold" font-style="normal" font-family="'DejaVu Sans', sans-serif" stroke="#000" stroke-width="0.8" stroke-linejoin="round">***</text><text transform="translate(1292.29 819.00) scale(1.0072 1)" font-size="35.27" font-weight="bold" font-style="normal" font-family="'DejaVu Sans', sans-serif" stroke="#000" stroke-width="0.8" stroke-linejoin="round">**</text><text transform="translate(1260.42 870.03) scale(0.9421 1)" font-size="27.45" font-weight="normal" font-style="normal">ns</text><text transform="translate(1159.96 1148.70) scale(1.0000 1)" font-size="23.19" font-weight="bold" font-style="normal">0</text><text transform="translate(1159.96 1075.40) scale(1.0000 1)" font-size="23.19" font-weight="bold" font-style="normal">2</text><text transform="translate(1159.15 1002.10) scale(1.0000 1)" font-size="23.19" font-weight="bold" font-style="normal">4</text><text transform="translate(1159.84 928.80) scale(1.0000 1)" font-size="23.19" font-weight="bold" font-style="normal">6</text><text transform="translate(1159.73 855.50) scale(1.0000 1)" font-size="23.19" font-weight="bold" font-style="normal">8</text><text transform="translate(1223.95 1181.80) scale(1.0038 1)" font-size="22.90" font-weight="normal" font-style="normal">Ctl</text><text transform="translate(1287.23 1181.80) scale(0.9749 1)" font-size="22.90" font-weight="normal" font-style="normal">1mM</text><text transform="translate(1358.37 1181.80) scale(0.9904 1)" font-size="22.90" font-weight="normal" font-style="normal">2mM</text><text transform="translate(1431.20 1181.80) scale(0.9774 1)" font-size="22.90" font-weight="normal" font-style="normal">5mM</text><text transform="translate(1291.94 706.31) scale(0.9489 1)" font-size="28.73" font-weight="bold" font-style="italic">CLDN5</text><text transform="translate(1146.20 1139.63) rotate(-90) scale(0.8900 1)" font-size="20.87" font-weight="bold" font-style="italic">CLDN5 relative to PRLPO expression</text></g>
<g><rect x="1654.00" y="1070.50" width="45.70" height="72.50" fill="#b3e1f1" stroke="#000" stroke-width="1.8"/><rect x="1726.20" y="1078.70" width="45.30" height="64.30" fill="#8fbcd5" stroke="#000" stroke-width="1.8"/><rect x="1798.20" y="1052.30" width="45.20" height="90.70" fill="#74a3c2" stroke="#000" stroke-width="1.8"/><rect x="1869.80" y="937.50" width="45.60" height="205.50" fill="#4b89b1" stroke="#000" stroke-width="1.8"/><rect x="1627.25" y="847.65" width="3.9" height="297.30"/><rect x="1615.80" y="1140.85" width="13.40" height="3.9"/><rect x="1615.80" y="1067.55" width="13.40" height="3.9"/><rect x="1615.80" y="994.25" width="13.40" height="3.9"/><rect x="1615.80" y="920.95" width="13.40" height="3.9"/><rect x="1615.80" y="847.65" width="13.40" height="3.9"/><rect x="1615.30" y="1141.05" width="325.60" height="3.9"/><rect x="1674.90" y="1143.00" width="3.9" height="12.70"/><rect x="1746.90" y="1143.00" width="3.9" height="12.70"/><rect x="1818.85" y="1143.00" width="3.9" height="12.70"/><rect x="1890.65" y="1143.00" width="3.9" height="12.70"/><circle cx="1657.60" cy="1061.00" r="4.6"/><circle cx="1676.70" cy="1064.00" r="4.6"/><circle cx="1696.10" cy="1066.50" r="4.6"/><circle cx="1657.60" cy="1075.90" r="4.6"/><circle cx="1676.70" cy="1072.20" r="4.6"/><circle cx="1696.10" cy="1075.90" r="4.6"/><circle cx="1729.40" cy="1073.30" r="4.6"/><circle cx="1748.80" cy="1069.20" r="4.6"/><circle cx="1768.70" cy="1067.70" r="4.6"/><circle cx="1768.70" cy="1078.00" r="4.6"/><circle cx="1739.40" cy="1090.60" r="4.6"/><circle cx="1758.50" cy="1087.60" r="4.6"/><circle cx="1801.40" cy="1047.30" r="4.6"/><circle cx="1820.80" cy="1043.60" r="4.6"/><circle cx="1840.30" cy="1040.50" r="4.6"/><circle cx="1840.30" cy="1050.80" r="4.6"/><circle cx="1811.20" cy="1063.00" r="4.6"/><circle cx="1830.60" cy="1060.00" r="4.6"/><circle cx="1883.80" cy="924.00" r="4.6"/><circle cx="1902.60" cy="918.40" r="4.6"/><circle cx="1883.80" cy="932.80" r="4.6"/><circle cx="1902.60" cy="934.80" r="4.6"/><circle cx="1902.60" cy="948.50" r="4.6"/><circle cx="1883.80" cy="957.30" r="4.6"/><path d="M1677.20 1066.50V1073.30M1664.40 1066.50H1690.00M1664.40 1073.30H1690.00" stroke="#000" stroke-width="3.4" fill="none"/><path d="M1748.80 1073.30V1081.40M1736.00 1073.30H1761.60M1736.00 1081.40H1761.60" stroke="#000" stroke-width="3.4" fill="none"/><path d="M1820.80 1047.30V1055.50M1807.50 1047.30H1834.10M1807.50 1055.50H1834.10" stroke="#000" stroke-width="3.4" fill="none"/><path d="M1892.60 930.10V941.30M1879.10 930.10H1906.10M1879.10 941.30H1906.10" stroke="#000" stroke-width="3.4" fill="none"/><path d="M1676.80 801.60V761.50H1892.20V899.60" stroke="#000" stroke-width="3.8" fill="none" stroke-linecap="round" stroke-linejoin="miter"/><path d="M1676.80 865.90V820.60H1820.50V1022.30" stroke="#000" stroke-width="3.8" fill="none" stroke-linecap="round" stroke-linejoin="miter"/><path d="M1676.80 1041.70V884.30H1748.60V1048.90" stroke="#000" stroke-width="3.8" fill="none" stroke-linecap="round" stroke-linejoin="miter"/><text transform="translate(1747.69 757.53) scale(1.0613 1)" font-size="33.55" font-weight="bold" font-style="normal" font-family="'DejaVu Sans', sans-serif" stroke="#000" stroke-width="0.8" stroke-linejoin="round">***</text><text transform="translate(1740.00 816.98) scale(1.0106 1)" font-size="34.84" font-weight="bold" font-style="normal" font-family="'DejaVu Sans', sans-serif" stroke="#000" stroke-width="0.8" stroke-linejoin="round">*</text><text transform="translate(1699.29 869.22) scale(0.9387 1)" font-size="28.00" font-weight="normal" font-style="normal">ns</text><text transform="translate(1598.48 1150.85) scale(1.0000 1)" font-size="23.33" font-weight="bold" font-style="normal">0</text><text transform="translate(1598.13 1077.55) scale(1.0000 1)" font-size="23.33" font-weight="bold" font-style="normal">1</text><text transform="translate(1598.48 1004.25) scale(1.0000 1)" font-size="23.33" font-weight="bold" font-style="normal">2</text><text transform="translate(1598.37 930.95) scale(1.0000 1)" font-size="23.33" font-weight="bold" font-style="normal">3</text><text transform="translate(1597.67 857.65) scale(1.0000 1)" font-size="23.33" font-weight="bold" font-style="normal">4</text><text transform="translate(1660.72 1181.80) scale(1.0276 1)" font-size="22.90" font-weight="normal" font-style="normal">Ctl</text><text transform="translate(1727.13 1181.80) scale(0.9728 1)" font-size="22.90" font-weight="normal" font-style="normal">1mM</text><text transform="translate(1798.28 1181.80) scale(0.9821 1)" font-size="22.90" font-weight="normal" font-style="normal">2mM</text><text transform="translate(1871.00 1181.80) scale(0.9795 1)" font-size="22.90" font-weight="normal" font-style="normal">5mM</text><text transform="translate(1745.51 705.81) scale(0.9426 1)" font-size="28.57" font-weight="bold" font-style="italic">TJP1</text><text transform="translate(1583.00 1132.14) rotate(-90) scale(0.9475 1)" font-size="19.57" font-weight="bold" font-style="italic">ZO-1 relative to PRLPO expression</text></g>
<g><rect x="175.40" y="1579.60" width="46.10" height="118.40" fill="#bccde6" stroke="#000" stroke-width="1.8"/><rect x="247.90" y="1457.20" width="46.60" height="240.80" fill="#cbc4e2" stroke="#000" stroke-width="1.8"/><rect x="320.90" y="1467.20" width="45.60" height="230.80" fill="#e3cde5" stroke="#000" stroke-width="1.8"/><rect x="147.65" y="1397.85" width="3.9" height="302.10"/><rect x="134.50" y="1695.85" width="15.10" height="3.9"/><rect x="134.50" y="1636.25" width="15.10" height="3.9"/><rect x="134.50" y="1576.65" width="15.10" height="3.9"/><rect x="134.50" y="1517.05" width="15.10" height="3.9"/><rect x="134.50" y="1457.45" width="15.10" height="3.9"/><rect x="134.50" y="1397.85" width="15.10" height="3.9"/><rect x="134.50" y="1696.05" width="258.10" height="3.9"/><rect x="196.50" y="1698.00" width="3.9" height="12.70"/><rect x="269.25" y="1698.00" width="3.9" height="12.70"/><rect x="341.75" y="1698.00" width="3.9" height="12.70"/><ellipse cx="179.30" cy="1566.20" rx="5.5" ry="4.4"/><ellipse cx="217.80" cy="1563.90" rx="5.5" ry="4.4"/><ellipse cx="198.00" cy="1571.00" rx="5.5" ry="4.4"/><ellipse cx="198.00" cy="1583.50" rx="5.5" ry="4.4"/><ellipse cx="179.30" cy="1593.70" rx="5.5" ry="4.4"/><ellipse cx="217.20" cy="1590.20" rx="5.5" ry="4.4"/><ellipse cx="271.00" cy="1432.30" rx="5.5" ry="4.4"/><ellipse cx="262.00" cy="1449.00" rx="5.5" ry="4.4"/><ellipse cx="280.00" cy="1451.90" rx="5.5" ry="4.4"/><ellipse cx="271.00" cy="1464.40" rx="5.5" ry="4.4"/><ellipse cx="252.70" cy="1470.10" rx="5.5" ry="4.4"/><ellipse cx="289.80" cy="1466.30" rx="5.5" ry="4.4"/><ellipse cx="344.00" cy="1444.60" rx="5.5" ry="4.4"/><ellipse cx="325.40" cy="1466.30" rx="5.5" ry="4.4"/><ellipse cx="344.00" cy="1463.40" rx="5.5" ry="4.4"/><ellipse cx="362.80" cy="1467.30" rx="5.5" ry="4.4"/><ellipse cx="344.00" cy="1478.80" rx="5.5" ry="4.4"/><ellipse cx="344.00" cy="1492.20" rx="5.5" ry="4.4"/><path d="M198.20 1572.90V1583.90M185.70 1572.90H210.70M185.70 1583.90H210.70" stroke="#000" stroke-width="3.4" fill="none"/><path d="M271.40 1450.30V1461.50M258.90 1450.30H283.90M258.90 1461.50H283.90" stroke="#000" stroke-width="2.2" fill="none"/><path d="M343.90 1462.50V1474.90M331.40 1462.50H356.40M331.40 1474.90H356.40" stroke="#000" stroke-width="2.2" fill="none"/><path d="M198.20 1375.80V1363.80H344.50V1432.70" stroke="#000" stroke-width="3.8" fill="none" stroke-linecap="round" stroke-linejoin="miter"/><path d="M198.60 1545.10V1397.40H271.20V1413.40" stroke="#000" stroke-width="3.8" fill="none" stroke-linecap="round" stroke-linejoin="miter"/><text transform="translate(243.39 1366.13) scale(1.0985 1)" font-size="32.47" font-weight="bold" font-style="normal" font-family="'DejaVu Sans', sans-serif" stroke="#000" stroke-width="0.8" stroke-linejoin="round">***</text><text transform="translate(207.78 1401.09) scale(1.1013 1)" font-size="32.69" font-weight="bold" font-style="normal" font-family="'DejaVu Sans', sans-serif" stroke="#000" stroke-width="0.8" stroke-linejoin="round">***</text><text transform="translate(99.94 1705.20) scale(1.0000 1)" font-size="21.45" font-weight="bold" font-style="normal">0.0</text><text transform="translate(99.62 1645.60) scale(1.0000 1)" font-size="21.45" font-weight="bold" font-style="normal">0.5</text><text transform="translate(99.94 1586.00) scale(1.0000 1)" font-size="21.45" font-weight="bold" font-style="normal">1.0</text><text transform="translate(99.62 1526.40) scale(1.0000 1)" font-size="21.45" font-weight="bold" font-style="normal">1.5</text><text transform="translate(99.94 1466.80) scale(1.0000 1)" font-size="21.45" font-weight="bold" font-style="normal">2.0</text><text transform="translate(99.62 1407.20) scale(1.0000 1)" font-size="21.45" font-weight="bold" font-style="normal">2.5</text><text transform="translate(180.55 1731.70) scale(0.9909 1)" font-size="20.87" font-weight="normal" font-style="normal">LPS</text><text transform="translate(239.18 1731.70) scale(0.9695 1)" font-size="20.87" font-weight="normal" font-style="normal">LPS+P</text><text transform="translate(312.57 1731.70) scale(0.9790 1)" font-size="20.87" font-weight="normal" font-style="normal">LPS+B</text><text transform="translate(229.84 1314.41) scale(0.9500 1)" font-size="28.73" font-weight="bold" font-style="italic">CLDN5</text><text transform="translate(74.90 1685.33) rotate(-90) scale(0.9200 1)" font-size="20.14" font-weight="bold" font-style="italic">CLDN5 relative to PRLPO expression</text></g>
<g><rect x="626.80" y="1548.50" width="46.20" height="146.70" fill="#bccde6" stroke="#000" stroke-width="1.8"/><rect x="699.80" y="1456.60" width="45.80" height="238.60" fill="#cbc4e2" stroke="#000" stroke-width="1.8"/><rect x="772.80" y="1452.80" width="46.20" height="242.40" fill="#e3cde5" stroke="#000" stroke-width="1.8"/><rect x="598.85" y="1398.75" width="3.9" height="298.40"/><rect x="585.70" y="1693.15" width="15.10" height="3.9"/><rect x="585.70" y="1619.55" width="15.10" height="3.9"/><rect x="585.70" y="1545.95" width="15.10" height="3.9"/><rect x="585.70" y="1472.35" width="15.10" height="3.9"/><rect x="585.70" y="1398.75" width="15.10" height="3.9"/><rect x="585.50" y="1693.25" width="258.90" height="3.9"/><rect x="647.95" y="1695.20" width="3.9" height="13.50"/><rect x="720.75" y="1695.20" width="3.9" height="13.50"/><rect x="793.95" y="1695.20" width="3.9" height="13.50"/><ellipse cx="649.90" cy="1523.00" rx="5.5" ry="4.4"/><ellipse cx="649.90" cy="1534.50" rx="5.5" ry="4.4"/><ellipse cx="660.50" cy="1548.00" rx="5.5" ry="4.4"/><ellipse cx="638.40" cy="1554.70" rx="5.5" ry="4.4"/><ellipse cx="660.50" cy="1556.60" rx="5.5" ry="4.4"/><ellipse cx="649.90" cy="1567.80" rx="5.5" ry="4.4"/><ellipse cx="722.90" cy="1429.80" rx="5.5" ry="4.4"/><ellipse cx="704.30" cy="1459.60" rx="5.5" ry="4.4"/><ellipse cx="728.70" cy="1455.70" rx="5.5" ry="4.4"/><ellipse cx="742.50" cy="1457.60" rx="5.5" ry="4.4"/><ellipse cx="716.20" cy="1468.20" rx="5.5" ry="4.4"/><ellipse cx="728.70" cy="1463.00" rx="5.5" ry="4.4"/><ellipse cx="777.10" cy="1439.40" rx="5.5" ry="4.4"/><ellipse cx="815.10" cy="1443.80" rx="5.5" ry="4.4"/><ellipse cx="777.10" cy="1451.50" rx="5.5" ry="4.4"/><ellipse cx="795.90" cy="1456.10" rx="5.5" ry="4.4"/><ellipse cx="815.10" cy="1457.60" rx="5.5" ry="4.4"/><ellipse cx="777.10" cy="1461.50" rx="5.5" ry="4.4"/><path d="M649.90 1540.90V1552.80M636.50 1540.90H663.30M636.50 1552.80H663.30" stroke="#000" stroke-width="3.4" fill="none"/><path d="M722.70 1449.60V1460.50M710.00 1449.60H735.40M710.00 1460.50H735.40" stroke="#000" stroke-width="2.2" fill="none"/><path d="M795.90 1447.10V1454.80M783.40 1447.10H808.40M783.40 1454.80H808.40" stroke="#000" stroke-width="2.2" fill="none"/><path d="M649.50 1372.80V1363.90H795.70V1412.30" stroke="#000" stroke-width="3.8" fill="none" stroke-linecap="round" stroke-linejoin="miter"/><path d="M650.20 1504.70V1402.80H723.10V1417.40" stroke="#000" stroke-width="3.8" fill="none" stroke-linecap="round" stroke-linejoin="miter"/><text transform="translate(693.99 1363.36) scale(1.0367 1)" font-size="34.41" font-weight="bold" font-style="normal" font-family="'DejaVu Sans', sans-serif" stroke="#000" stroke-width="0.8" stroke-linejoin="round">***</text><text transform="translate(660.79 1403.67) scale(1.1079 1)" font-size="32.26" font-weight="bold" font-style="normal" font-family="'DejaVu Sans', sans-serif" stroke="#000" stroke-width="0.8" stroke-linejoin="round">***</text><text transform="translate(546.65 1702.55) scale(1.0000 1)" font-size="21.59" font-weight="bold" font-style="normal">0.0</text><text transform="translate(546.32 1628.95) scale(1.0000 1)" font-size="21.59" font-weight="bold" font-style="normal">0.5</text><text transform="translate(546.65 1555.35) scale(1.0000 1)" font-size="21.59" font-weight="bold" font-style="normal">1.0</text><text transform="translate(546.32 1481.75) scale(1.0000 1)" font-size="21.59" font-weight="bold" font-style="normal">1.5</text><text transform="translate(546.65 1408.15) scale(1.0000 1)" font-size="21.59" font-weight="bold" font-style="normal">2.0</text><text transform="translate(626.73 1727.70) scale(1.0088 1)" font-size="20.72" font-weight="normal" font-style="normal">LPS</text><text transform="translate(690.57 1727.70) scale(0.9859 1)" font-size="20.72" font-weight="normal" font-style="normal">LPS+P</text><text transform="translate(762.54 1727.70) scale(1.0019 1)" font-size="20.72" font-weight="normal" font-style="normal">LPS+B</text><text transform="translate(717.88 1313.72) scale(0.9629 1)" font-size="28.43" font-weight="bold" font-style="italic">TJP1</text><text transform="translate(529.20 1685.84) rotate(-90) scale(0.9967 1)" font-size="18.55" font-weight="bold" font-style="italic">ZO-1 relative to PRLPO expression</text></g>
<g><rect x="1233.30" y="1629.00" width="46.30" height="66.70" fill="#bccde6" stroke="#000" stroke-width="1.8"/><rect x="1306.30" y="1528.10" width="45.90" height="167.60" fill="#cbc4e2" stroke="#000" stroke-width="1.8"/><rect x="1379.40" y="1519.10" width="45.80" height="176.60" fill="#e3cde5" stroke="#000" stroke-width="1.8"/><rect x="1205.75" y="1403.05" width="3.9" height="294.60"/><rect x="1192.30" y="1693.55" width="15.40" height="3.9"/><rect x="1192.30" y="1635.45" width="15.40" height="3.9"/><rect x="1192.30" y="1577.35" width="15.40" height="3.9"/><rect x="1192.30" y="1519.25" width="15.40" height="3.9"/><rect x="1192.30" y="1461.15" width="15.40" height="3.9"/><rect x="1192.30" y="1403.05" width="15.40" height="3.9"/><rect x="1192.10" y="1693.75" width="258.40" height="3.9"/><rect x="1254.50" y="1695.70" width="3.9" height="13.00"/><rect x="1327.30" y="1695.70" width="3.9" height="13.00"/><rect x="1400.35" y="1695.70" width="3.9" height="13.00"/><ellipse cx="1256.00" cy="1526.20" rx="5.5" ry="4.4"/><ellipse cx="1256.00" cy="1631.60" rx="5.5" ry="4.4"/><ellipse cx="1237.20" cy="1656.00" rx="5.5" ry="4.4"/><ellipse cx="1249.70" cy="1649.80" rx="5.5" ry="4.4"/><ellipse cx="1262.60" cy="1651.70" rx="5.5" ry="4.4"/><ellipse cx="1275.10" cy="1650.80" rx="5.5" ry="4.4"/><ellipse cx="1318.30" cy="1494.50" rx="5.5" ry="4.4"/><ellipse cx="1340.00" cy="1495.50" rx="5.5" ry="4.4"/><ellipse cx="1329.10" cy="1531.60" rx="5.5" ry="4.4"/><ellipse cx="1318.30" cy="1541.80" rx="5.5" ry="4.4"/><ellipse cx="1340.00" cy="1547.00" rx="5.5" ry="4.4"/><ellipse cx="1318.30" cy="1551.80" rx="5.5" ry="4.4"/><ellipse cx="1401.90" cy="1473.00" rx="5.5" ry="4.4"/><ellipse cx="1390.90" cy="1509.50" rx="5.5" ry="4.4"/><ellipse cx="1413.00" cy="1509.50" rx="5.5" ry="4.4"/><ellipse cx="1390.90" cy="1534.50" rx="5.5" ry="4.4"/><ellipse cx="1413.00" cy="1535.50" rx="5.5" ry="4.4"/><ellipse cx="1401.90" cy="1545.10" rx="5.5" ry="4.4"/><path d="M1256.40 1607.10V1647.90M1243.00 1607.10H1269.80M1243.00 1647.90H1269.80" stroke="#000" stroke-width="3.4" fill="none"/><path d="M1329.20 1516.60V1537.40M1316.50 1516.60H1341.90M1316.50 1537.40H1341.90" stroke="#000" stroke-width="2.2" fill="none"/><path d="M1402.00 1506.60V1527.80M1389.00 1506.60H1415.00M1389.00 1527.80H1415.00" stroke="#000" stroke-width="2.2" fill="none"/><path d="M1256.00 1388.70V1370.30H1402.50V1458.90" stroke="#000" stroke-width="3.8" fill="none" stroke-linecap="round" stroke-linejoin="miter"/><path d="M1257.00 1507.60V1439.50H1329.50V1476.80" stroke="#000" stroke-width="3.8" fill="none" stroke-linecap="round" stroke-linejoin="miter"/><text transform="translate(1301.09 1369.60) scale(1.1681 1)" font-size="30.54" font-weight="bold" font-style="normal" font-family="'DejaVu Sans', sans-serif" stroke="#000" stroke-width="0.8" stroke-linejoin="round">***</text><text transform="translate(1264.99 1434.94) scale(0.9801 1)" font-size="36.13" font-weight="bold" font-style="normal" font-family="'DejaVu Sans', sans-serif" stroke="#000" stroke-width="0.8" stroke-linejoin="round">***</text><text transform="translate(1174.46 1703.50) scale(1.0000 1)" font-size="23.19" font-weight="bold" font-style="normal">0</text><text transform="translate(1174.11 1645.40) scale(1.0000 1)" font-size="23.19" font-weight="bold" font-style="normal">1</text><text transform="translate(1174.46 1587.30) scale(1.0000 1)" font-size="23.19" font-weight="bold" font-style="normal">2</text><text transform="translate(1174.34 1529.20) scale(1.0000 1)" font-size="23.19" font-weight="bold" font-style="normal">3</text><text transform="translate(1173.65 1471.10) scale(1.0000 1)" font-size="23.19" font-weight="bold" font-style="normal">4</text><text transform="translate(1174.11 1413.00) scale(1.0000 1)" font-size="23.19" font-weight="bold" font-style="normal">5</text><text transform="translate(1235.92 1729.70) scale(1.0072 1)" font-size="20.87" font-weight="normal" font-style="normal">LPS</text><text transform="translate(1295.14 1729.70) scale(0.9934 1)" font-size="20.87" font-weight="normal" font-style="normal">LPS+P</text><text transform="translate(1369.19 1729.70) scale(0.9631 1)" font-size="20.87" font-weight="normal" font-style="normal">LPS+B</text><text transform="translate(1294.04 1314.11) scale(0.9500 1)" font-size="28.73" font-weight="bold" font-style="italic">CLDN5</text><text transform="translate(1152.70 1687.22) rotate(-90) scale(0.8989 1)" font-size="20.58" font-weight="bold" font-style="italic">CLDN5 relative to PRLPO expression</text></g>
<g><rect x="1668.10" y="1587.30" width="45.70" height="105.90" fill="#bccde6" stroke="#000" stroke-width="1.8"/><rect x="1741.00" y="1480.60" width="45.80" height="212.60" fill="#cbc4e2" stroke="#000" stroke-width="1.8"/><rect x="1813.60" y="1476.20" width="45.70" height="217.00" fill="#e3cde5" stroke="#000" stroke-width="1.8"/><rect x="1640.45" y="1400.36" width="3.9" height="294.79"/><rect x="1627.10" y="1691.45" width="15.30" height="3.9"/><rect x="1627.10" y="1594.42" width="15.30" height="3.9"/><rect x="1627.10" y="1497.39" width="15.30" height="3.9"/><rect x="1627.10" y="1400.36" width="15.30" height="3.9"/><rect x="1626.90" y="1691.25" width="257.90" height="3.9"/><rect x="1689.00" y="1693.20" width="3.9" height="13.20"/><rect x="1761.95" y="1693.20" width="3.9" height="13.20"/><rect x="1834.50" y="1693.20" width="3.9" height="13.20"/><ellipse cx="1690.70" cy="1465.30" rx="5.5" ry="4.4"/><ellipse cx="1691.20" cy="1579.70" rx="5.5" ry="4.4"/><ellipse cx="1691.20" cy="1609.50" rx="5.5" ry="4.4"/><ellipse cx="1691.20" cy="1618.10" rx="5.5" ry="4.4"/><ellipse cx="1672.40" cy="1622.90" rx="5.5" ry="4.4"/><ellipse cx="1709.90" cy="1622.90" rx="5.5" ry="4.4"/><ellipse cx="1752.70" cy="1441.90" rx="5.5" ry="4.4"/><ellipse cx="1774.60" cy="1439.00" rx="5.5" ry="4.4"/><ellipse cx="1763.70" cy="1480.30" rx="5.5" ry="4.4"/><ellipse cx="1752.70" cy="1495.50" rx="5.5" ry="4.4"/><ellipse cx="1774.60" cy="1503.80" rx="5.5" ry="4.4"/><ellipse cx="1763.70" cy="1518.80" rx="5.5" ry="4.4"/><ellipse cx="1836.70" cy="1437.10" rx="5.5" ry="4.4"/><ellipse cx="1836.70" cy="1458.60" rx="5.5" ry="4.4"/><ellipse cx="1836.70" cy="1467.60" rx="5.5" ry="4.4"/><ellipse cx="1836.70" cy="1477.80" rx="5.5" ry="4.4"/><ellipse cx="1847.30" cy="1499.50" rx="5.5" ry="4.4"/><ellipse cx="1825.60" cy="1507.60" rx="5.5" ry="4.4"/><path d="M1691.00 1561.00V1611.40M1678.80 1561.00H1703.20M1678.80 1611.40H1703.20" stroke="#000" stroke-width="2.2" fill="none"/><path d="M1763.70 1466.30V1493.20M1751.80 1466.30H1775.60M1751.80 1493.20H1775.60" stroke="#000" stroke-width="2.2" fill="none"/><path d="M1836.30 1463.80V1485.50M1823.40 1463.80H1849.20M1823.40 1485.50H1849.20" stroke="#000" stroke-width="2.2" fill="none"/><path d="M1690.60 1381.50V1365.80H1836.30V1438.50" stroke="#000" stroke-width="3.8" fill="none" stroke-linecap="round" stroke-linejoin="miter"/><path d="M1690.80 1446.60V1402.80H1763.40V1420.30" stroke="#000" stroke-width="3.8" fill="none" stroke-linecap="round" stroke-linejoin="miter"/><text transform="translate(1726.49 1367.80) scale(1.0432 1)" font-size="34.19" font-weight="bold" font-style="normal" font-family="'DejaVu Sans', sans-serif" stroke="#000" stroke-width="0.8" stroke-linejoin="round">***</text><text transform="translate(1708.70 1403.14) scale(1.1616 1)" font-size="30.32" font-weight="bold" font-style="normal" font-family="'DejaVu Sans', sans-serif" stroke="#000" stroke-width="0.8" stroke-linejoin="round">**</text><text transform="translate(1605.56 1701.40) scale(1.0000 1)" font-size="23.19" font-weight="bold" font-style="normal">0</text><text transform="translate(1605.21 1604.37) scale(1.0000 1)" font-size="23.19" font-weight="bold" font-style="normal">1</text><text transform="translate(1605.56 1507.34) scale(1.0000 1)" font-size="23.19" font-weight="bold" font-style="normal">2</text><text transform="translate(1605.44 1410.31) scale(1.0000 1)" font-size="23.19" font-weight="bold" font-style="normal">3</text><text transform="translate(1672.12 1729.70) scale(1.0045 1)" font-size="20.87" font-weight="normal" font-style="normal">LPS</text><text transform="translate(1731.85 1729.70) scale(0.9854 1)" font-size="20.87" font-weight="normal" font-style="normal">LPS+P</text><text transform="translate(1804.67 1729.70) scale(0.9743 1)" font-size="20.87" font-weight="normal" font-style="normal">LPS+B</text><text transform="translate(1748.41 1312.52) scale(0.9568 1)" font-size="28.29" font-weight="bold" font-style="italic">TJP1</text><text transform="translate(1595.40 1688.74) rotate(-90) scale(0.9408 1)" font-size="19.71" font-weight="bold" font-style="italic">ZO-1 relative to PRLPO expression</text></g></svg>
</body></html>
